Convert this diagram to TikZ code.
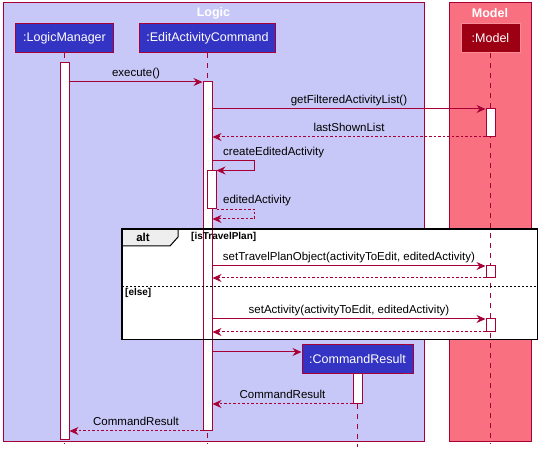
\documentclass[tikz,border=0pt]{standalone}
\usepackage{fontspec}
\setmainfont{Liberation Sans}
\usetikzlibrary{arrows.meta,positioning,calc}

\definecolor{logicbg}{RGB}{200,200,248}
\definecolor{modelbg}{RGB}{249,113,129}
\definecolor{umlred}{RGB}{168,0,54}
\definecolor{logicpart}{RGB}{51,51,196}
\definecolor{modelpart}{RGB}{157,0,18}
\definecolor{modeledge}{RGB}{250,140,152}
\definecolor{tabgray}{RGB}{238,238,238}

\begin{document}
\begin{tikzpicture}[x=1pt,y=-1pt,>={Stealth[length=9pt,width=8pt,inset=3pt]},
group/.style={draw=umlred,line width=1pt},
grouptitle/.style={text=white,font=\bfseries\fontsize{12.5}{14}\selectfont},
participant/.style={draw=umlred,line width=1pt,text=white,minimum height=29pt,
    inner sep=0pt,font=\fontsize{12.5}{14}\selectfont},
lifeline/.style={umlred,line width=1pt,dash pattern=on 5pt off 5pt},
actbar/.style={draw=umlred,fill=white,line width=1pt,minimum width=9pt,inner sep=0pt},
msg/.style={->,umlred,line width=1pt},
ret/.style={msg,dash pattern=on 2.5pt off 2pt},
msglabel/.style={text=black,font=\fontsize{11.5}{13}\selectfont,inner sep=0pt,
    text height=9pt,text depth=2.5pt},
guard/.style={font=\bfseries\fontsize{10}{12}\selectfont,inner sep=0pt}]
\useasboundingbox (0,0) rectangle (547,457);

% groups
\draw[group,fill=logicbg] (3,3) rectangle (424,442);
\draw[group,fill=modelbg] (449,3) rectangle (531,442);
\node[grouptitle] (logicT) at (213.5,13) {Logic};
\node[grouptitle] (modelT) at (490,13) {Model};

% alt frame background
\node[fill=white,inner sep=0pt,minimum width=415pt,minimum height=110pt,
    anchor=north west] (alt) at (122,229) {};

% message levels
\coordinate (bottom) at (0,444);
\coordinate (m1) at (0,82);
\coordinate (m2) at (0,109);
\coordinate (m3) at (0,137);
\coordinate (m4) at (0,161);
\coordinate (m7) at (0,266);
\coordinate (m8) at (0,278);
\coordinate (sep) at (0,286);
\coordinate (m9) at (0,319);
\coordinate (m10) at (0,332);
\coordinate (m11) at (0,352);
\coordinate (m12) at (0,404);
\coordinate (m13) at (0,431);
\coordinate (m6) at (0,219);

% participants
\node[participant,fill=logicpart,minimum width=98pt] (lm) at (64.5,38.5) {:LogicManager};
\node[participant,fill=logicpart,minimum width=136pt] (eac) at (207.5,38.5) {:EditActivityCommand};
\node[participant,fill=modelpart,draw=modeledge,minimum width=59pt] (mdl) at (490.5,38.5) {:Model};

\draw[lifeline] (lm.south) -- (lm.south |- bottom);
\draw[lifeline] (eac.south) -- (eac.south |- bottom);
\draw[lifeline] (mdl.south) -- (mdl.south |- bottom);

\node[participant,fill=logicpart,minimum width=111pt] (cr) at (357.5,359.5) {:CommandResult};
\draw[lifeline] (cr.south) -- ++(0,73);

% activations
\node[actbar,minimum height=377pt] (lmA) at (64.5,251.5) {};
\node[actbar,minimum height=349pt] (eacA) at (207.5,256.5) {};
\node[actbar,minimum height=38pt] (eacB) at (211.5,190) {};
\node[actbar,minimum height=28pt] (mdlA) at (490.5,123) {};
\node[actbar,minimum height=12pt] (mdlB) at (490.5,272) {};
\node[actbar,minimum height=13pt] (mdlC) at (490.5,325.5) {};
\node[actbar,minimum height=30pt] (crA) at (357.5,389) {};

% messages
\draw[msg] (lmA.east |- m1) -- node[msglabel,above=2pt] {execute()} (eacA.west |- m1);
\draw[msg] (eacA.east |- m2) -- node[msglabel,above=2pt] {getFilteredActivityList()} (mdlA.west |- m2);
\draw[ret] (mdlA.west |- m3) -- node[msglabel,above=2pt] {lastShownList} (eacA.east |- m3);
\draw[msg] (eacA.east |- m4) -- ++(42,0) |- (eacB.north east);
\node[msglabel,anchor=base west] (createL) at (223,156) {createEditedActivity};
\draw[ret] (eacB.south east) -- ++(38,0) |- (eacA.east |- m6);
\node[msglabel,anchor=base west] (editedL) at (223,204) {editedActivity};

\draw[msg] (eacA.east |- m7) -- node[msglabel,above=2pt] {setTravelPlanObject(activityToEdit, editedActivity)} (mdlB.west |- m7);
\draw[ret] (mdlB.west |- m8) -- (eacA.east |- m8);
\draw[msg] (eacA.east |- m9) -- node[msglabel,above=2pt] {setActivity(activityToEdit, editedActivity)} (mdlC.west |- m9);
\draw[ret] (mdlC.west |- m10) -- (eacA.east |- m10);

\draw[msg] (eacA.east |- m11) -- (cr.west |- m11);
\draw[ret] (crA.west |- m12) -- node[msglabel,above=2pt] {CommandResult} (eacA.east |- m12);
\draw[ret] (eacA.west |- m13) -- node[msglabel,above=2pt] {CommandResult} (lmA.east |- m13);

% alt frame
\draw[fill=tabgray,line width=1pt] (alt.north west) -- ++(56,0) -- ++(0,8) -- ++(-8,9) -- ++(-48,0);
\draw[line width=1.5pt] (alt.north west) rectangle (alt.south east);
\draw[dash pattern=on 2pt off 2pt] (alt.west |- sep) -- (alt.east |- sep);
\node[font=\bfseries\fontsize{11.5}{13}\selectfont] (altT) at (143,237.5) {alt};
\node[guard,anchor=west] (g1) at (191,237) {[isTravelPlan]};
\node[guard,anchor=west] (g2) at (125,293) {[else]};
\end{tikzpicture}
\end{document}
